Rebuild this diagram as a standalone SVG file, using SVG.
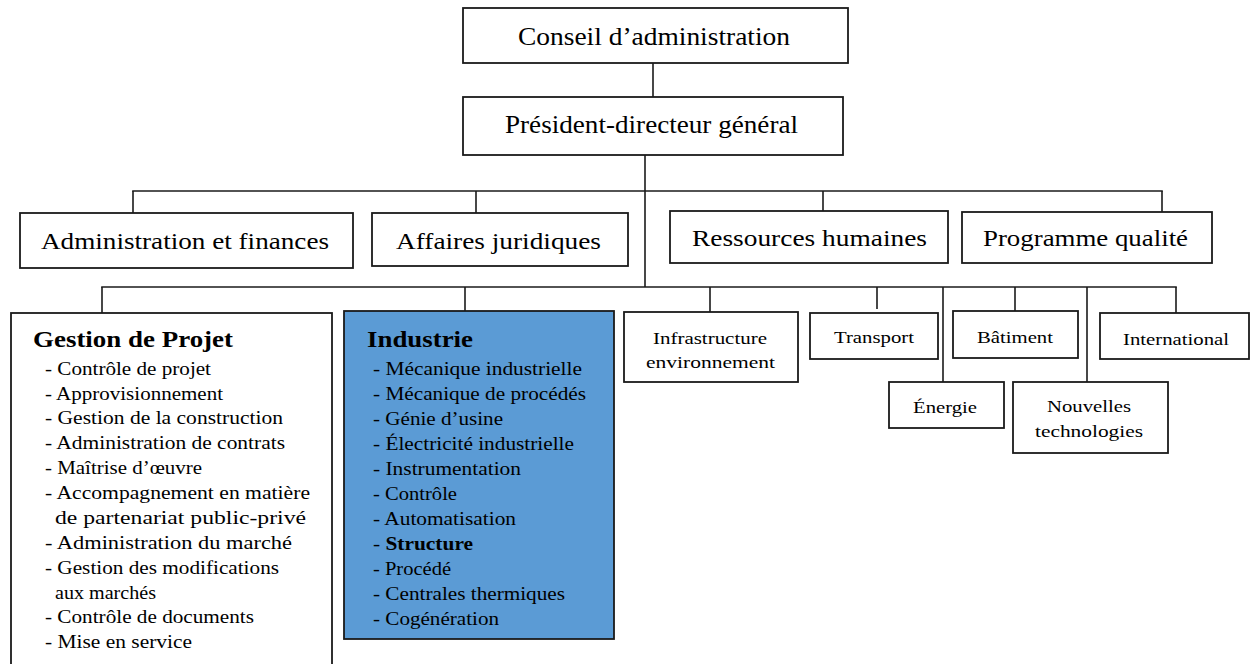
<svg xmlns="http://www.w3.org/2000/svg" width="1251" height="664" viewBox="0 0 1251 664">
<style>
.box{fill:#fff;stroke:#1a1a1a;stroke-width:1.8}
.blue{fill:#5b9bd5;stroke:#1a1a1a;stroke-width:1.8}
.con line{stroke:#1a1a1a;stroke-width:1.6}
text{font-family:"Liberation Serif","Times New Roman","DejaVu Serif",serif;fill:#000}
.t24{font-size:25px}
.t23{font-size:24px}
.hd{font-size:23px;font-weight:bold}
.li{font-size:18px}
.sm{font-size:17px}
</style>
<rect width="1251" height="664" fill="#fff"/>
<g class="con">
<line x1="653" y1="63" x2="653" y2="97"/>
<line x1="645" y1="155" x2="645" y2="287"/>
<line x1="132.2" y1="191" x2="1162.8" y2="191"/>
<line x1="133" y1="191" x2="133" y2="213"/>
<line x1="476" y1="191" x2="476" y2="213"/>
<line x1="823" y1="191" x2="823" y2="211"/>
<line x1="1162" y1="191" x2="1162" y2="212"/>
<line x1="101.2" y1="287" x2="1176.8" y2="287"/>
<line x1="102" y1="287" x2="102" y2="313"/>
<line x1="465" y1="287" x2="465" y2="311"/>
<line x1="710" y1="287" x2="710" y2="312"/>
<line x1="877" y1="287" x2="877" y2="309"/>
<line x1="943" y1="287" x2="943" y2="382"/>
<line x1="1015" y1="287" x2="1015" y2="311"/>
<line x1="1087" y1="287" x2="1087" y2="382"/>
<line x1="1176" y1="287" x2="1176" y2="313"/>
</g>
<g id="conseil">
<rect class="box" x="463" y="8" width="385" height="55"/>
<text class="t24" x="518" y="45" textLength="272" lengthAdjust="spacingAndGlyphs">Conseil d’administration</text>
</g>
<g id="pdg">
<rect class="box" x="463" y="97" width="380" height="58"/>
<text class="t24" x="505" y="133" textLength="293" lengthAdjust="spacingAndGlyphs">Président-directeur général</text>
</g>
<g id="admin">
<rect class="box" x="20" y="213" width="333" height="55"/>
<text class="t23" x="41" y="249" textLength="288" lengthAdjust="spacingAndGlyphs">Administration et finances</text>
</g>
<g id="affaires">
<rect class="box" x="372" y="213" width="256" height="53"/>
<text class="t23" x="396" y="249" textLength="205" lengthAdjust="spacingAndGlyphs">Affaires juridiques</text>
</g>
<g id="rh">
<rect class="box" x="670" y="211" width="278" height="52"/>
<text class="t23" x="692" y="246" textLength="235" lengthAdjust="spacingAndGlyphs">Ressources humaines</text>
</g>
<g id="qualite">
<rect class="box" x="962" y="212" width="250" height="51"/>
<text class="t23" x="983" y="246" textLength="205" lengthAdjust="spacingAndGlyphs">Programme qualité</text>
</g>
<g id="gestion">
<rect class="box" x="11" y="313" width="321" height="370"/>
<text class="hd" x="33" y="347" textLength="200" lengthAdjust="spacingAndGlyphs">Gestion de Projet</text>
<text class="li" x="45" y="375" textLength="166" lengthAdjust="spacingAndGlyphs">- Contrôle de projet</text>
<text class="li" x="45" y="400" textLength="178" lengthAdjust="spacingAndGlyphs">- Approvisionnement</text>
<text class="li" x="45" y="424" textLength="238" lengthAdjust="spacingAndGlyphs">- Gestion de la construction</text>
<text class="li" x="45" y="449" textLength="240" lengthAdjust="spacingAndGlyphs">- Administration de contrats</text>
<text class="li" x="45" y="474" textLength="157" lengthAdjust="spacingAndGlyphs">- Maîtrise d’œuvre</text>
<text class="li" x="45" y="499" textLength="265" lengthAdjust="spacingAndGlyphs">- Accompagnement en matière</text>
<text class="li" x="55" y="524" textLength="251" lengthAdjust="spacingAndGlyphs">de partenariat public-privé</text>
<text class="li" x="45" y="549" textLength="247" lengthAdjust="spacingAndGlyphs">- Administration du marché</text>
<text class="li" x="45" y="574" textLength="234" lengthAdjust="spacingAndGlyphs">- Gestion des modifications</text>
<text class="li" x="55" y="599" textLength="101" lengthAdjust="spacingAndGlyphs">aux marchés</text>
<text class="li" x="45" y="623" textLength="209" lengthAdjust="spacingAndGlyphs">- Contrôle de documents</text>
<text class="li" x="45" y="648" textLength="147" lengthAdjust="spacingAndGlyphs">- Mise en service</text>
</g>
<g id="industrie">
<rect class="blue" x="344" y="311" width="270" height="328"/>
<text class="hd" x="367" y="347" textLength="106" lengthAdjust="spacingAndGlyphs">Industrie</text>
<text class="li" x="373" y="375" textLength="209" lengthAdjust="spacingAndGlyphs">- Mécanique industrielle</text>
<text class="li" x="373" y="400" textLength="213" lengthAdjust="spacingAndGlyphs">- Mécanique de procédés</text>
<text class="li" x="373" y="425" textLength="130" lengthAdjust="spacingAndGlyphs">- Génie d’usine</text>
<text class="li" x="373" y="450" textLength="201" lengthAdjust="spacingAndGlyphs">- Électricité industrielle</text>
<text class="li" x="373" y="475" textLength="148" lengthAdjust="spacingAndGlyphs">- Instrumentation</text>
<text class="li" x="373" y="500" textLength="84" lengthAdjust="spacingAndGlyphs">- Contrôle</text>
<text class="li" x="373" y="525" textLength="143" lengthAdjust="spacingAndGlyphs">- Automatisation</text>
<text class="li" x="373" y="550" textLength="100" lengthAdjust="spacingAndGlyphs">- <tspan font-weight="bold">Structure</tspan></text>
<text class="li" x="373" y="575" textLength="78" lengthAdjust="spacingAndGlyphs">- Procédé</text>
<text class="li" x="373" y="600" textLength="192" lengthAdjust="spacingAndGlyphs">- Centrales thermiques</text>
<text class="li" x="373" y="625" textLength="126" lengthAdjust="spacingAndGlyphs">- Cogénération</text>
</g>
<g id="infrastructure">
<rect class="box" x="624" y="312" width="174" height="70"/>
<text class="sm" x="653" y="344" textLength="114" lengthAdjust="spacingAndGlyphs">Infrastructure</text>
<text class="sm" x="646" y="368" textLength="129" lengthAdjust="spacingAndGlyphs">environnement</text>
</g>
<g id="transport">
<rect class="box" x="810" y="313" width="128" height="46"/>
<text class="sm" x="834" y="343" textLength="80" lengthAdjust="spacingAndGlyphs">Transport</text>
</g>
<g id="energie">
<rect class="box" x="889" y="382" width="115" height="46"/>
<text class="sm" x="913" y="413" textLength="64" lengthAdjust="spacingAndGlyphs">Énergie</text>
</g>
<g id="batiment">
<rect class="box" x="953" y="311" width="125" height="47"/>
<text class="sm" x="977" y="343" textLength="76" lengthAdjust="spacingAndGlyphs">Bâtiment</text>
</g>
<g id="nouvelles">
<rect class="box" x="1013" y="382" width="155" height="71"/>
<text class="sm" x="1047" y="412" textLength="84" lengthAdjust="spacingAndGlyphs">Nouvelles</text>
<text class="sm" x="1035" y="437" textLength="108" lengthAdjust="spacingAndGlyphs">technologies</text>
</g>
<g id="international">
<rect class="box" x="1100" y="313" width="149" height="46"/>
<text class="sm" x="1123" y="345" textLength="106" lengthAdjust="spacingAndGlyphs">International</text>
</g>
</svg>
